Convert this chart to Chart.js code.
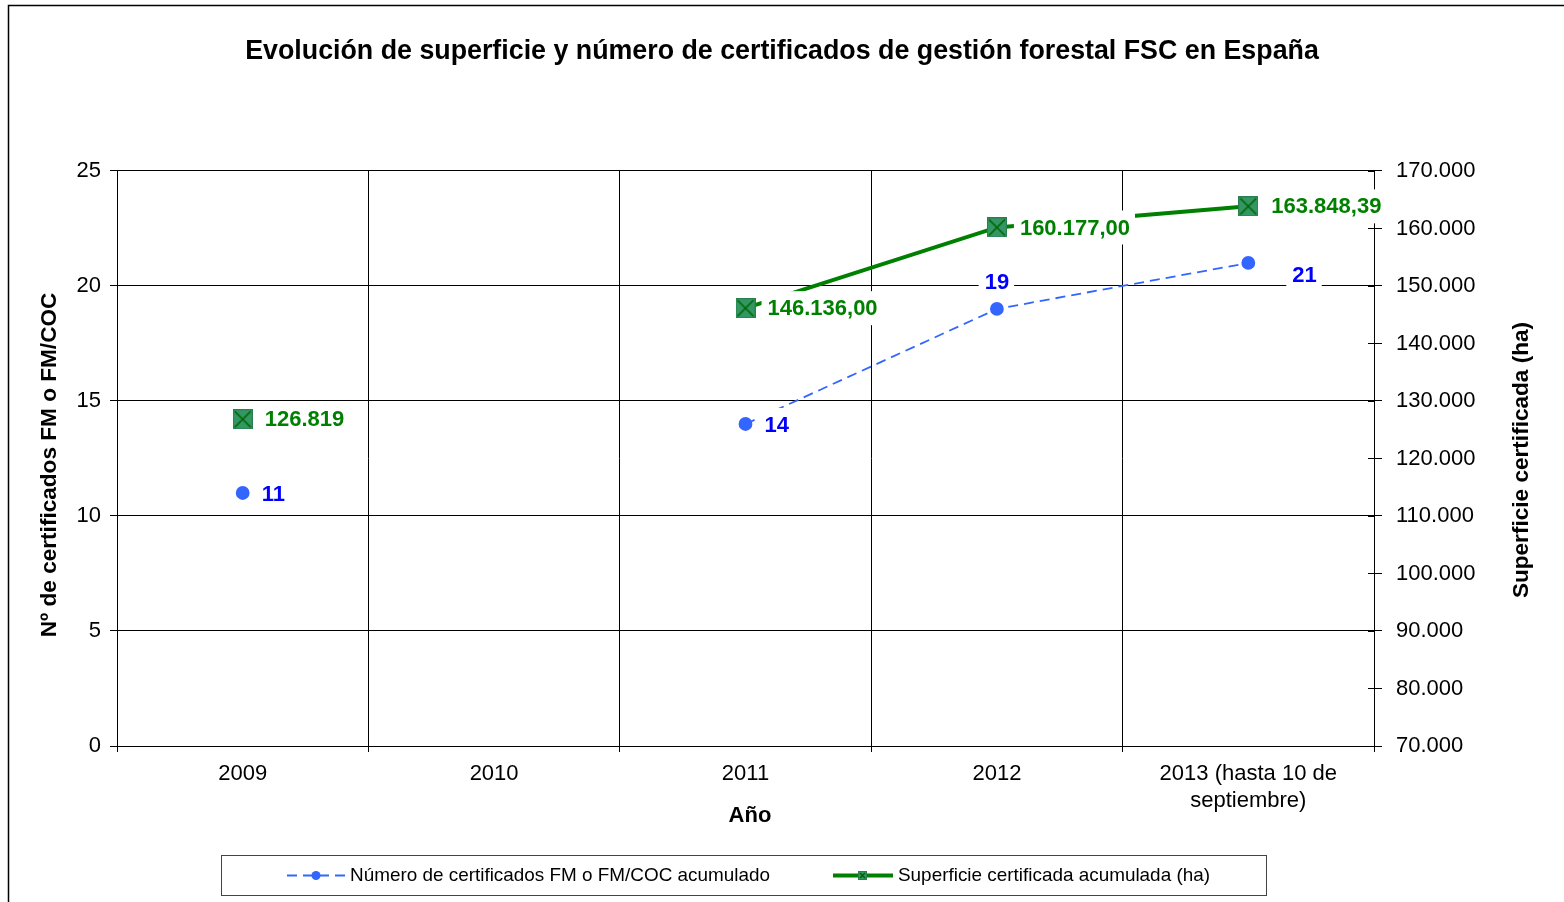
<!DOCTYPE html>
<html>
<head>
<meta charset="utf-8">
<script src="https://cdn.jsdelivr.net/npm/chart.js@4"></script>
<style>
  html, body { margin: 0; padding: 0; background: #fff; overflow: hidden; }
</style>
</head>
<body>
<canvas id="fscChart" width="1564" height="902"></canvas>
<script>
// data
const years = ["2009", "2010", "2011", "2012", ["2013 (hasta 10 de", "septiembre)"]];
const certificates = [11, null, 14, 19, 21];
const surface = [126819, null, 146136, 160177, 163848.39];
const surfaceLabels = ["126.819", "", "146.136,00", "160.177,00", "163.848,39"];
const leftRange = [0, 25, 5];
const rightRange = [70000, 170000, 10000];

const FONT = "'Liberation Sans', Arial, sans-serif";
const BLUE = "#3366FF";
const GREEN = "#008000";

Chart.defaults.font.family = FONT;
Chart.defaults.color = "#000";

function thousands(v) {
  return String(v).replace(/\B(?=(\d{3})+(?!\d))/g, ".");
}

function squareMarker(size) {
  let c = document.createElement("canvas");
  c.width = size;
  c.height = size;
  let g = c.getContext("2d");
  g.fillStyle = "#329763";
  g.fillRect(0, 0, size, size);
  g.strokeStyle = "#2A7F50";
  g.lineWidth = 1;
  g.strokeRect(0.5, 0.5, size - 1, size - 1);
  g.strokeStyle = "#006400";
  g.lineWidth = 1.6;
  g.beginPath();
  g.moveTo(2, 2);
  g.lineTo(size - 2, size - 2);
  g.moveTo(size - 2, 2);
  g.lineTo(2, size - 2);
  g.stroke();
  return c;
}

// data labels with white boxes, drawn on top like Excel does
const pointLabels = {
  id: "pointLabels",
  afterDatasetsDraw(chart, args, opts) {
    let ctx = chart.ctx;
    ctx.save();
    ctx.font = "bold 22px " + FONT;
    ctx.textBaseline = "middle";
    chart.data.datasets.forEach((ds, i) => {
      let meta = chart.getDatasetMeta(i);
      meta.data.forEach((pt, j) => {
        if (ds.data[j] == null) return;
        let text = ds.valueLabels ? ds.valueLabels[j] : String(ds.data[j]);
        let off = opts.offsets[i][j];
        let w = ctx.measureText(text).width;
        let tx = off[2] === "center" ? pt.x + off[0] - w / 2 : pt.x + off[0];
        let cy = pt.y + off[1];
        ctx.fillStyle = "#fff";
        ctx.fillRect(tx - 6, cy - 17, w + 11, 34);
        ctx.fillStyle = opts.colors[i];
        ctx.fillText(text, tx, cy + 1);
      });
    });
    ctx.restore();
  },
};

const frameAndLegend = {
  id: "frameAndLegend",
  afterDraw(chart) {
    let ctx = chart.ctx;
    let y1 = chart.scales.y1;
    ctx.save();

    // inner half of the right axis tick marks
    ctx.strokeStyle = "#000";
    ctx.lineWidth = 1;
    y1.ticks.forEach((t, k) => {
      let y = Math.round(y1.getPixelForTick(k)) + 0.5;
      ctx.beginPath();
      ctx.moveTo(y1.left - 6, y);
      ctx.lineTo(y1.left, y);
      ctx.stroke();
    });

    // axis titles drawn by hand so they sit where the reference has them
    ctx.font = "bold 22.6px " + FONT;
    ctx.textAlign = "center";
    ctx.textBaseline = "middle";
    ctx.fillStyle = "#000";
    ctx.save();
    ctx.translate(1522, 460);
    ctx.rotate(-Math.PI / 2);
    ctx.fillText("Superficie certificada (ha)", 0, 0);
    ctx.restore();
    ctx.save();
    ctx.translate(50, 465);
    ctx.rotate(-Math.PI / 2);
    ctx.fillText("Nº de certificados FM o FM/COC", 0, 0);
    ctx.restore();
    ctx.font = "bold 22px " + FONT;
    ctx.fillText("Año", 750, 816);

    // outer frame
    ctx.strokeStyle = "#000";
    ctx.lineWidth = 1.5;
    ctx.beginPath();
    ctx.moveTo(8.5, 902);
    ctx.lineTo(8.5, 5.5);
    ctx.lineTo(1564, 5.5);
    ctx.stroke();

    // legend
    ctx.textAlign = "left";
    ctx.strokeStyle = "#444";
    ctx.lineWidth = 1;
    ctx.strokeRect(221.5, 855.5, 1045, 40);
    let ds = chart.data.datasets;
    ctx.font = "19px " + FONT;
    ctx.fillStyle = "#000";

    ctx.strokeStyle = ds[0].borderColor;
    ctx.lineWidth = 2;
    ctx.setLineDash([10, 6]);
    ctx.beginPath();
    ctx.moveTo(287, 875.5);
    ctx.lineTo(346, 875.5);
    ctx.stroke();
    ctx.setLineDash([]);
    ctx.fillStyle = ds[0].pointBackgroundColor;
    ctx.beginPath();
    ctx.arc(316, 875.5, 4.5, 0, Math.PI * 2);
    ctx.fill();
    ctx.fillStyle = "#000";
    ctx.fillText(ds[0].label, 350, 876, 420);

    ctx.strokeStyle = ds[1].borderColor;
    ctx.lineWidth = 4;
    ctx.beginPath();
    ctx.moveTo(833, 875.5);
    ctx.lineTo(893, 875.5);
    ctx.stroke();
    ctx.drawImage(squareMarker(9), 858, 871);
    ctx.fillStyle = "#000";
    ctx.fillText(ds[1].label, 898, 876, 312);

    ctx.restore();
  },
};

new Chart(document.getElementById("fscChart"), {
  type: "line",
  data: {
    labels: years,
    datasets: [
      {
        label: "Número de certificados FM o FM/COC acumulado",
        data: certificates,
        yAxisID: "y",
        borderColor: BLUE,
        backgroundColor: BLUE,
        pointBackgroundColor: BLUE,
        pointBorderColor: BLUE,
        borderWidth: 1.8,
        borderDash: [10, 6],
        pointRadius: 6,
        tension: 0,
      },
      {
        label: "Superficie certificada acumulada (ha)",
        data: surface,
        valueLabels: surfaceLabels,
        yAxisID: "y1",
        borderColor: GREEN,
        backgroundColor: GREEN,
        pointBackgroundColor: GREEN,
        borderWidth: 4,
        pointStyle: squareMarker(20),
        pointRadius: 10,
        tension: 0,
      },
    ],
  },
  options: {
    responsive: false,
    animation: false,
    layout: {
      padding: { top: 0, left: 0, right: 0, bottom: 56 },
    },
    scales: {
      x: {
        offset: true,
        grid: { offset: true, color: "#000", tickColor: "#000", tickLength: 6 },
        border: { color: "#000" },
        ticks: { font: { size: 22 }, padding: 9, maxRotation: 0, autoSkip: false },
        afterFit(scale) {
          scale.height = 100;
        },
      },
      y: {
        position: "left",
        min: leftRange[0],
        max: leftRange[1],
        ticks: { stepSize: leftRange[2], font: { size: 22 }, padding: 9 },
        grid: { color: "#000", tickColor: "#000", tickLength: 7 },
        border: { color: "#000" },
        afterFit(scale) {
          scale.width = 117;
        },
      },
      y1: {
        position: "right",
        min: rightRange[0],
        max: rightRange[1],
        ticks: {
          stepSize: rightRange[2],
          font: { size: 22 },
          padding: 14,
          callback: (v) => thousands(v),
        },
        grid: { drawOnChartArea: false, color: "#000", tickColor: "#000", tickLength: 8 },
        border: { color: "#000" },
        afterFit(scale) {
          scale.width = 190;
        },
      },
    },
    plugins: {
      legend: { display: false },
      tooltip: { enabled: false },
      title: {
        display: true,
        text: "Evolución de superficie y número de certificados de gestión forestal FSC en España",
        font: { size: 26.8, weight: "bold" },
        color: "#000",
        padding: { top: 36, bottom: 102.8 },
      },
      pointLabels: {
        colors: ["#0000FF", GREEN],
        offsets: [
          [[19, 1], [0, 0], [19, 1], [0, -27, "center"], [44, 12]],
          [[22, 0], [0, 0], [22, 0], [23, 0], [23, 0]],
        ],
      },
    },
  },
  plugins: [pointLabels, frameAndLegend],
});
</script>
</body>
</html>
